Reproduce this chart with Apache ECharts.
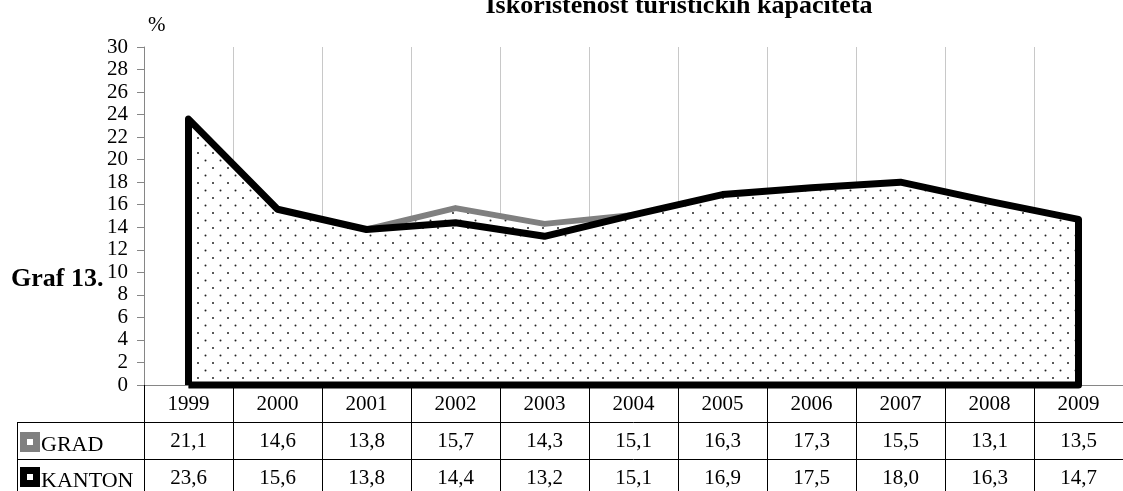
<!DOCTYPE html>
<html>
<head>
<meta charset="utf-8">
<script src="https://cdn.jsdelivr.net/npm/echarts@6/dist/echarts.min.js"></script>
<style>
  html,body{margin:0;padding:0;background:#fff;}
  #chart{width:1123px;height:491px;}
</style>
</head>
<body>
<div id="chart"></div>
<script>
// podaci
const years = ["1999","2000","2001","2002","2003","2004","2005","2006","2007","2008","2009"];
const grad = [21.1, 14.6, 13.8, 15.7, 14.3, 15.1, 16.3, 17.3, 15.5, 13.1, 13.5];
const kanton = [23.6, 15.6, 13.8, 14.4, 13.2, 15.1, 16.9, 17.5, 18.0, 16.3, 14.7];
const yTicks = {min: 0, max: 30, step: 2};

const FONT = "Liberation Serif";
const G = {left: 144, top: 47, width: 991, height: 338};
const ROW = 37;

const fmt = v => v.toFixed(1).replace(".", ",");

// tackasta ispuna
function dotPattern(){
	const c = document.createElement("canvas");
	c.width = 15; c.height = 15;
	const ctx = c.getContext("2d");
	ctx.fillStyle = "#fff";
	ctx.fillRect(0,0,15,15);
	ctx.fillStyle = "#222";
	[[3,3],[10.5,10.5]].forEach(([x,y])=>{
		ctx.beginPath();
		ctx.arc(x,y,1,0,Math.PI*2);
		ctx.fill();
	});
	return {image: c, repeat: "repeat"};
}
const pattern = dotPattern();

// zatvoreni poligon (ivica povrsine)
const outline = arr => [[0,0], ...arr.map((v,i)=>[i,v]), [arr.length-1,0], [0,0]];

function tableAxis(offset, labels){
	return {
		type: "category",
		data: years,
		position: "bottom",
		offset: offset,
		boundaryGap: true,
		axisLine: {show: true, lineStyle: {color: "#000", width: 1}},
		axisTick: {show: true, interval: 0, length: ROW, lineStyle: {color: "#000", width: 1}},
		axisLabel: {
			interval: 0, margin: 9, fontSize: 21, lineHeight: 21, color: "#000", fontFamily: FONT,
			formatter: (v, i) => labels ? labels[i] : v
		},
		splitLine: {show: false}
	};
}

const chart = echarts.init(document.getElementById("chart"), null, {renderer: "canvas"});

const mainX = tableAxis(0, null);
mainX.axisLine = {show: true, lineStyle: {color: "#868686", width: 1}};
mainX.splitLine = {show: true, interval: 0, lineStyle: {color: "#c8c8c8", width: 1}};

const option = {
	animation: false,
	backgroundColor: "#fff",
	grid: {left: G.left, top: G.top, width: G.width, height: G.height, containLabel: false},
	xAxis: [
		mainX,
		tableAxis(ROW, grad.map(fmt)),
		tableAxis(ROW*2, kanton.map(fmt))
	],
	yAxis: {
		type: "value",
		min: yTicks.min, max: yTicks.max, interval: yTicks.step,
		axisLine: {show: true, lineStyle: {color: "#868686", width: 1}},
		axisTick: {show: true, length: 7, lineStyle: {color: "#868686"}},
		axisLabel: {fontSize: 21, color: "#000", fontFamily: FONT, margin: 16},
		splitLine: {show: false}
	},
	series: [
		{
			name: "GRAD", type: "line", data: grad, symbol: "none",
			lineStyle: {width: 0}, areaStyle: {color: pattern, opacity: 1}, z: 2
		},
		{
			name: "GRAD_ivica", type: "line", data: outline(grad), symbol: "none", clip: false,
			lineStyle: {width: 6, color: "#808080", join: "round"}, z: 3
		},
		{
			name: "KANTON", type: "line", data: kanton, symbol: "none",
			lineStyle: {width: 0}, areaStyle: {color: pattern, opacity: 1}, z: 4
		},
		{
			name: "KANTON_ivica", type: "line", data: outline(kanton), symbol: "none", clip: false,
			lineStyle: {width: 7, color: "#000", join: "round"}, z: 5
		}
	],
	graphic: [
		{type: "text", x: 679, y: -7, style: {text: "Iskorištenost turističkih kapaciteta", font: "bold 26px '" + FONT + "'", fill: "#000", textAlign: "center", textVerticalAlign: "top"}},
		{type: "text", x: 148, y: 15, style: {text: "%", font: "21px '" + FONT + "'", fill: "#000", textVerticalAlign: "top"}},
		{type: "text", x: 11, y: 266, style: {text: "Graf 13.", font: "bold 26px '" + FONT + "'", fill: "#000", textVerticalAlign: "top"}},
		// lijevi dio tabele
		{type: "line", shape: {x1: 17, y1: G.top+G.height+ROW+0.5, x2: G.left, y2: G.top+G.height+ROW+0.5}, style: {stroke: "#000", lineWidth: 1}},
		{type: "line", shape: {x1: 17, y1: G.top+G.height+ROW*2+0.5, x2: G.left, y2: G.top+G.height+ROW*2+0.5}, style: {stroke: "#000", lineWidth: 1}},
		{type: "line", shape: {x1: 17.5, y1: G.top+G.height+ROW, x2: 17.5, y2: 491}, style: {stroke: "#000", lineWidth: 1}},
		// legenda
		{type: "rect", shape: {x: 20, y: 432, width: 20, height: 20}, style: {fill: "#808080"}},
		{type: "rect", shape: {x: 27, y: 439, width: 6, height: 6}, style: {fill: "#fff"}},
		{type: "text", x: 41, y: 434, style: {text: "GRAD", font: "22px '" + FONT + "'", fill: "#000", textVerticalAlign: "top"}},
		{type: "rect", shape: {x: 20, y: 467, width: 20, height: 20}, style: {fill: "#000"}},
		{type: "rect", shape: {x: 27, y: 474, width: 6, height: 6}, style: {fill: "#fff"}},
		{type: "text", x: 41, y: 470, style: {text: "KANTON", font: "22px '" + FONT + "'", fill: "#000", textVerticalAlign: "top"}}
	]
};

chart.setOption(option);
</script>
</body>
</html>
